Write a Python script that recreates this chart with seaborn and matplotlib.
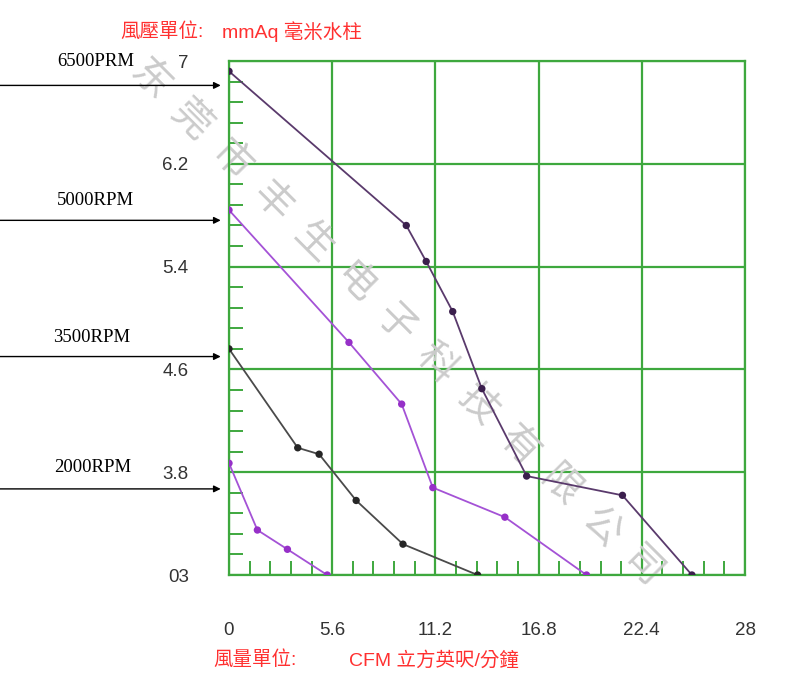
import numpy as np
import pandas as pd
import matplotlib
matplotlib.use("Agg")
import matplotlib.pyplot as plt
import seaborn as sns
from matplotlib.ticker import FixedLocator

# Fan P-Q curves: airflow (CFM) vs static pressure (mmAq)
speeds = ["6500PRM", "5000RPM", "3500RPM", "2000RPM"]
flow_6500 = [0.0, 9.62, 10.7, 12.14, 13.72, 16.15, 21.35, 25.12]
pres_6500 = [6.92, 5.72, 5.44, 5.05, 4.45, 3.77, 3.62, 3.0]
flow_5000 = [0.0, 6.51, 9.37, 11.06, 14.97, 19.4]
pres_5000 = [5.84, 4.81, 4.33, 3.68, 3.45, 3.0]
flow_3500 = [0.0, 3.73, 4.89, 6.9, 9.44, 13.49]
pres_3500 = [4.76, 3.99, 3.94, 3.58, 3.24, 3.0]
flow_2000 = [0.0, 1.54, 3.17, 5.33]
pres_2000 = [3.87, 3.35, 3.2, 3.0]

# pressure level each speed label points at
label_levels = [6.81, 5.76, 4.70, 3.67]

x_ticks = [0, 5.6, 11.2, 16.8, 22.4, 28]
x_tick_labels = ["0", "5.6", "11.2", "16.8", "22.4", "28"]
y_ticks = [3.0, 3.8, 4.6, 5.4, 6.2, 7.0]
y_tick_labels = ["03", "3.8", "4.6", "5.4", "6.2", "7"]

watermark = "东莞市丰生电子科技有限公司"

sns.set_style("white")
plt.rcParams["font.family"] = ["Liberation Sans", "Noto Sans CJK TC", "DejaVu Sans"]

W, H = 793, 686
fig = plt.figure(figsize=(W / 100, H / 100), dpi=100)
ax = fig.add_axes([229 / W, 1 - 575 / H, (745 - 229) / W, (575 - 61) / H])

df = pd.concat([
    pd.DataFrame({"flow": f, "pressure": p, "speed": s})
    for f, p, s in zip([flow_6500, flow_5000, flow_3500, flow_2000],
                       [pres_6500, pres_5000, pres_3500, pres_2000], speeds)
])

line_colors = {"6500PRM": "#5a3a6c", "5000RPM": "#a452d6",
               "3500RPM": "#4a4a4a", "2000RPM": "#a452d6"}
marker_colors = {"6500PRM": "#3b1f4d", "5000RPM": "#9630c8",
                 "3500RPM": "#262626", "2000RPM": "#9630c8"}

for s in speeds:
    sub = df[df["speed"] == s]
    sns.lineplot(data=sub, x="flow", y="pressure", sort=False, estimator=None,
                 color=line_colors[s], lw=1.3, ax=ax, zorder=4, legend=False)
    sns.scatterplot(data=sub, x="flow", y="pressure", color=marker_colors[s],
                    s=28, edgecolor="none", ax=ax, zorder=5, legend=False)

green = "#3ea83e"
ax.set_xlim(0, 28)
ax.set_ylim(3.0, 7.0)
ax.set_xticks(x_ticks)
ax.set_xticklabels(x_tick_labels)
ax.set_yticks(y_ticks)
ax.set_yticklabels(y_tick_labels)
ax.xaxis.set_minor_locator(FixedLocator(np.round(np.arange(0, 28.01, 1.12), 2)))
ax.yaxis.set_minor_locator(FixedLocator(np.round(np.arange(3.0, 7.001, 0.16), 2)))
ax.tick_params(which="major", length=0, labelsize=13.5, labelcolor="#333333")
ax.tick_params(axis="x", which="major", pad=34)
ax.tick_params(axis="y", which="major", pad=29)
ax.tick_params(which="minor", direction="in", length=10, width=1.4, color=green)
ax.tick_params(axis="x", which="minor", bottom=True)
ax.tick_params(axis="y", which="minor", left=True)
ax.grid(True, which="major", color=green, lw=1.6, zorder=2)
for sp in ax.spines.values():
    sp.set_color(green)
    sp.set_linewidth(1.6)
ax.set_xlabel("")
ax.set_ylabel("")


def px(x, y):
    return x / W, 1 - y / H


red = "#ff3030"
fig.text(*px(120, 32), "風壓單位:", color=red, fontsize=14, va="center", ha="left")
fig.text(*px(222, 32), "mmAq 毫米水柱", color=red, fontsize=14, va="center", ha="left")
fig.text(*px(213, 660), "風量單位:", color=red, fontsize=14, va="center", ha="left")
fig.text(*px(349, 660), "CFM 立方英呎/分鐘", color=red, fontsize=14, va="center", ha="left")

# speed labels with arrows pointing at the curves' shut-off pressure
label_xy = [(96, 62), (95, 200), (92, 338), (93, 467)]
for name, lvl, (tx, ty) in zip(speeds, label_levels, label_xy):
    fig.text(*px(tx, ty), name, fontsize=13.5, family="Liberation Serif",
             ha="center", va="center", color="black")
    ax.annotate("", xy=(-0.45, lvl), xycoords="data",
                xytext=(0.0, lvl), textcoords=("figure fraction", "data"),
                arrowprops=dict(arrowstyle="-|>", color="black", lw=1.0,
                                mutation_scale=10, shrinkA=0, shrinkB=0),
                annotation_clip=False)

# diagonal company watermark, kept beneath the grid and curves
for i, ch in enumerate(watermark):
    cx, cy = 150 + 41.0 * i, 80 + 40.6 * i
    ax.text(*px(cx, cy), ch, transform=fig.transFigure, fontsize=28,
            color="#cbcbcb", rotation=-45,
            ha="center", va="center", family=["Noto Sans CJK SC"],
            zorder=1, clip_on=False)

fig.savefig("out.png", dpi=100)
